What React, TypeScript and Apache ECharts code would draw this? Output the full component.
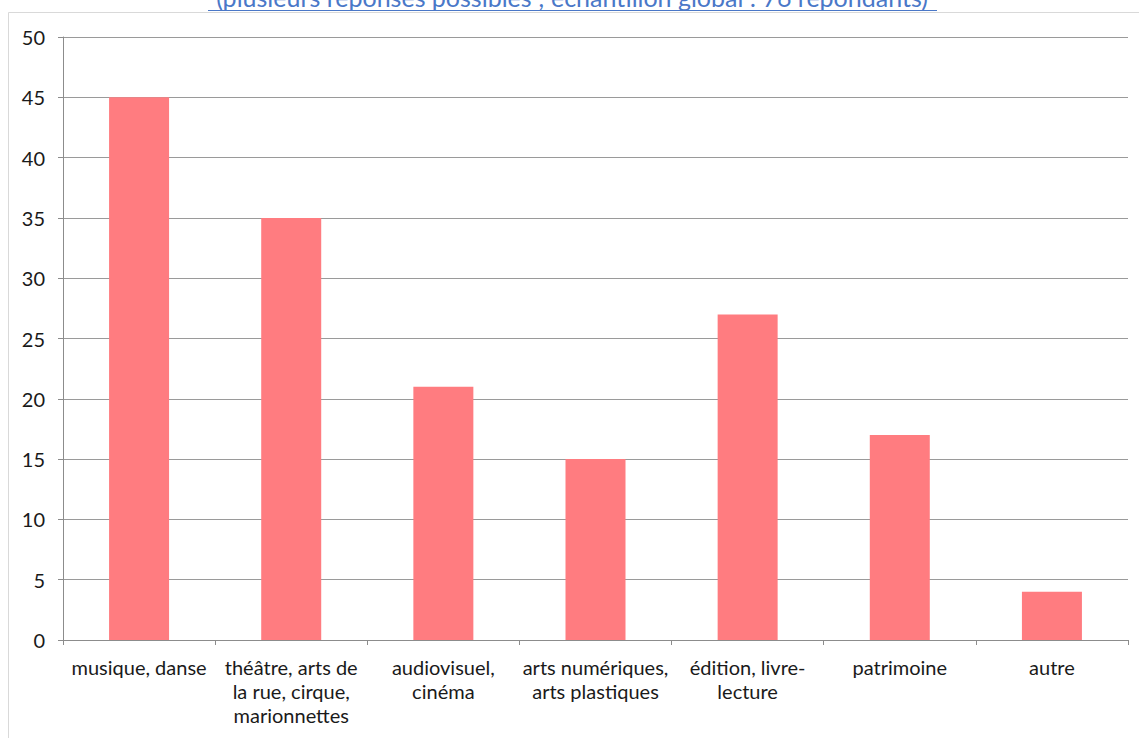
import React, { useEffect, useRef } from "react";
import * as echarts from "echarts";

const categories = [
  "musique, danse",
  "théâtre, arts de\nla rue, cirque,\nmarionnettes",
  "audiovisuel,\ncinéma",
  "arts numériques,\narts plastiques",
  "édition, livre-\nlecture",
  "patrimoine",
  "autre",
];
const values = [45, 35, 21, 15, 27, 17, 4];
const subtitle = "(plusieurs réponses possibles ; échantillon global : 76 répondants)";

export default function App() {
  const ref = useRef<HTMLDivElement>(null);
  useEffect(() => {
    document.body.style.margin = "0";
    const chart = echarts.init(ref.current!, null, { renderer: "svg" });
    chart.setOption({
      animation: false,
      backgroundColor: "#ffffff",
      textStyle: { fontFamily: "Lato" },
      grid: { left: 63, right: 11, top: 37, bottom: 98, containLabel: false },
      graphic: [
        {
          type: "line",
          shape: { x1: 8.5, y1: 12.5, x2: 1139, y2: 12.5 },
          style: { stroke: "#d9d9d9", lineWidth: 1 },
        },
        {
          type: "line",
          shape: { x1: 8.5, y1: 12.5, x2: 8.5, y2: 738 },
          style: { stroke: "#d9d9d9", lineWidth: 1 },
        },
        {
          type: "text",
          x: 572,
          y: 9,
          style: {
            text: subtitle,
            fill: "#4a78c8",
            font: "25px Lato",
            align: "center",
            verticalAlign: "bottom",
          },
        },
        {
          type: "line",
          shape: { x1: 208, y1: 10.5, x2: 937, y2: 10.5 },
          style: { stroke: "#4a78c8", lineWidth: 1.2 },
        },
      ],
      xAxis: {
        type: "category",
        data: categories,
        axisLine: { lineStyle: { color: "#8c8c8c" } },
        axisTick: { show: true, length: 5, lineStyle: { color: "#8c8c8c" } },
        axisLabel: {
          interval: 0,
          color: "#1a1a1a",
          fontSize: 20,
          lineHeight: 24,
          margin: 15,
          fontFamily: "Lato",
        },
      },
      yAxis: {
        type: "value",
        min: 0,
        max: 50,
        interval: 5,
        axisLine: { show: true, lineStyle: { color: "#8c8c8c" } },
        axisTick: { show: true, length: 5, lineStyle: { color: "#8c8c8c" } },
        axisLabel: { color: "#1a1a1a", fontSize: 20, margin: 18, fontFamily: "Lato" },
        splitLine: { lineStyle: { color: "#9a9a9a", width: 1 } },
      },
      series: [
        {
          type: "bar",
          data: values,
          barWidth: 60,
          itemStyle: { color: "#ff7c80" },
        },
      ],
    });
    return () => chart.dispose();
  }, []);
  return <div ref={ref} style={{ width: 1139, height: 738 }} />;
}
